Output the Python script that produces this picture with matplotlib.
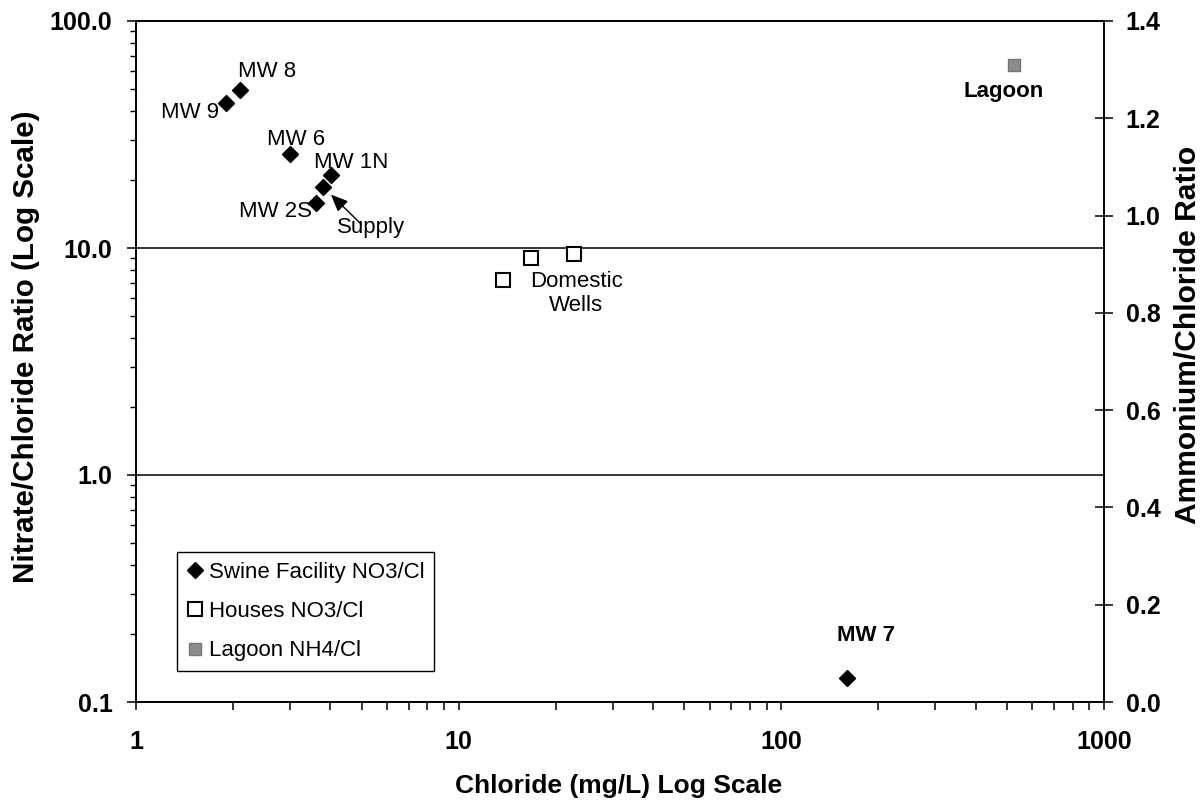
import matplotlib
matplotlib.use("Agg")
import matplotlib.pyplot as plt
from matplotlib.ticker import LogLocator, NullFormatter, FuncFormatter
from matplotlib.lines import Line2D

plt.rcParams['font.family'] = ['Liberation Sans', 'DejaVu Sans']

# === DADOS ===
swine_labels = ["MW 9", "MW 8", "MW 6", "MW 1N", "Supply", "MW 2S", "MW 7"]
swine_cl = [1.90, 2.10, 3.00, 4.01, 3.81, 3.60, 160]
swine_ratio = [43.5, 49.8, 25.9, 21.0, 18.5, 15.8, 0.128]

house_cl = [13.7, 16.8, 22.8]
house_ratio = [7.25, 9.03, 9.44]

lagoon_cl = [526]
lagoon_nh4 = [1.31]

x_ticks = [1, 10, 100, 1000]
y_ticks = [0.1, 1, 10, 100]
y2_ticks = [0.0, 0.2, 0.4, 0.6, 0.8, 1.0, 1.2, 1.4]

# deslocamento dos rotulos (pixels) em relacao ao ponto, alinhamento, peso
label_style = {
    "MW 9": ((-7, -9), "right", "normal"),
    "MW 8": ((-2, 18), "left", "normal"),
    "MW 6": ((6, 15), "center", "normal"),
    "MW 1N": ((-17, 12), "left", "normal"),
    "Supply": ((14, -40), "left", "normal"),
    "MW 2S": ((-4, -9), "right", "normal"),
    "MW 7": ((19, 42), "center", "bold"),
}

W, H = 1204, 801

# === GRAFICO ===
fig = plt.figure(figsize=(W / 100, H / 100), dpi=100)
ax = fig.add_axes([136 / W, 99 / H, 968 / W, 681 / H])
ax2 = ax.twinx()

ax.set_xscale('log')
ax.set_yscale('log')
ax.set_xlim(1, 1000)
ax.set_ylim(0.1, 100)
ax2.set_ylim(0, 1.4)

ax.plot(swine_cl, swine_ratio, 'D', color='black', ms=8, zorder=3)
ax.plot(house_cl, house_ratio, 's', mfc='white', mec='black', ms=10, mew=1.5, zorder=3)
ax2.plot(lagoon_cl, lagoon_nh4, 's', mfc='#8c8c8c', mec='#777777', ms=8.5, mew=1, zorder=3)

# linhas horizontais em 1 e 10
ax.set_axisbelow(True)
ax.yaxis.grid(True, which='major', color='black', lw=1.1)

for lab, xv, yv in zip(swine_labels, swine_cl, swine_ratio):
    off, ha, fw = label_style[lab]
    ax.annotate(lab, (xv, yv), xytext=off, textcoords='offset pixels',
                ha=ha, va='center', fontsize=16, fontweight=fw)

# seta do Supply
i_sup = swine_labels.index("Supply")
ax.annotate("", (swine_cl[i_sup], swine_ratio[i_sup]), xytext=(38, -37),
            textcoords='offset pixels',
            arrowprops=dict(arrowstyle='-|>,head_length=0.65,head_width=0.28',
                            color='black', lw=1.0, shrinkA=0, shrinkB=7.5,
                            mutation_scale=16))

ax.annotate("Domestic\nWells", (house_cl[2], house_ratio[2]), xytext=(2, -40),
            textcoords='offset pixels', ha='center', va='center',
            multialignment='center', fontsize=16, linespacing=1.15)

ax2.annotate("Lagoon", (lagoon_cl[0], lagoon_nh4[0]), xytext=(-10, -27),
             textcoords='offset pixels', ha='center', va='center',
             fontsize=16, fontweight='bold')

# ticks / eixos
ax.set_xticks(x_ticks)
ax.xaxis.set_minor_locator(LogLocator(base=10, subs=range(2, 10), numticks=10))
ax.xaxis.set_minor_formatter(NullFormatter())
ax.xaxis.set_major_formatter(FuncFormatter(lambda v, p: f"{v:g}"))

ax.set_yticks(y_ticks)
ax.yaxis.set_minor_locator(LogLocator(base=10, subs=range(2, 10), numticks=10))
ax.yaxis.set_minor_formatter(NullFormatter())
ax.yaxis.set_major_formatter(FuncFormatter(lambda v, p: f"{v:.1f}"))

ax2.set_yticks(y2_ticks)
ax2.yaxis.set_major_formatter(FuncFormatter(lambda v, p: f"{v:.1f}"))

ax.tick_params(axis='x', which='both', direction='out', length=6, width=1.1,
               labelsize=18, pad=14, top=False)
ax.tick_params(axis='y', which='major', direction='out', length=6.5, width=1.1,
               labelsize=18, pad=10.5, right=False)
ax.tick_params(axis='y', which='minor', direction='out', length=4.5, width=1.0, right=False)
ax2.tick_params(axis='y', which='major', direction='inout', length=13, width=1.1,
                labelsize=18, pad=9)
for lbl in ax.get_xticklabels() + ax.get_yticklabels() + ax2.get_yticklabels():
    lbl.set_fontweight('bold')

for a in (ax, ax2):
    for s in a.spines.values():
        s.set_linewidth(1.2)
        s.set_color('black')

# titulos dos eixos
fig.text(618.5 / W, 1 - 786 / H, "Chloride (mg/L) Log Scale", fontsize=19,
         fontweight='bold', ha='center', va='center')
fig.text(26 / W, 1 - 346.5 / H, "Nitrate/Chloride Ratio (Log Scale)", fontsize=21.3,
         fontweight='bold', ha='center', va='center', rotation=90)
fig.text(1188 / W, 1 - 335 / H, "Ammonium/Chloride Ratio", fontsize=21.6,
         fontweight='bold', ha='center', va='center', rotation=90)

# legenda
handles = [
    Line2D([], [], ls='none', marker='D', color='black', ms=8),
    Line2D([], [], ls='none', marker='s', mfc='white', mec='black', ms=10, mew=1.5),
    Line2D([], [], ls='none', marker='s', mfc='#8c8c8c', mec='#777777', ms=8.5),
]
leg = ax2.legend(handles, ["Swine Facility NO3/Cl", "Houses NO3/Cl", "Lagoon NH4/Cl"],
                 loc='lower left', bbox_to_anchor=(0.042, 0.0455), borderaxespad=0,
                 fontsize=16, frameon=True, fancybox=False, framealpha=1,
                 edgecolor='black', labelspacing=0.83, borderpad=0.43,
                 handlelength=0.77, handletextpad=0.25)
leg.get_frame().set_linewidth(1.0)

fig.savefig("out.png", dpi=100)
